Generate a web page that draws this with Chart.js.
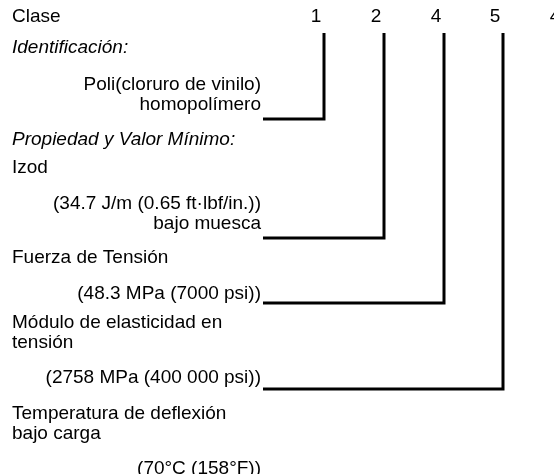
<!DOCTYPE html>
<html><head><meta charset="utf-8">
<script src="https://cdn.jsdelivr.net/npm/chart.js@4"></script>
<style>html,body{margin:0;padding:0;background:#fff;overflow:hidden}</style>
</head><body>
<canvas id="c" width="554" height="474"></canvas>
<script>
// ---- data ----
const classCodes = ['1', '2', '4', '5', '4'];
const rowText = [
  'Clase',
  'Identificación:',
  'Poli(cloruro de vinilo)',
  'homopolímero',
  'Propiedad y Valor Mínimo:',
  'Izod',
  '(34.7 J/m (0.65 ft·lbf/in.))',
  'bajo muesca',
  'Fuerza de Tensión',
  '(48.3 MPa (7000 psi))',
  'Módulo de elasticidad en',
  'tensión',
  '(2758 MPa (400 000 psi))',
  'Temperatura de deflexión',
  'bajo carga',
  '(70°C (158°F))'
];
// h = header, s = section (italic), p = property name, v = value (right aligned)
const rowKind = ['h','s','v','v','s','p','v','v','p','v','p','p','v','p','p','v'];
// row each class code's bracket points to (index into rowText)
const bracketRow = [3, 7, 9, 12];

// ---- layout ----
const rowY = [17, 48, 85, 105, 140, 168, 204, 224, 258, 294, 323, 343, 378, 414, 434, 469];
const bracketDrop = [14, 14, 9, 11];
const colX = [324, 384, 444, 503, 563];
const codeShift = -8;
const lineTop = 33;
const leftX = 12, valueRight = 261, lineStart = 263;
const FONT = '19px "Liberation Sans", Arial, sans-serif';

const datasets = bracketRow.map((r, i) => ({
  data: [
    { x: colX[i], y: lineTop },
    { x: colX[i], y: rowY[r] + bracketDrop[i] },
    { x: lineStart, y: rowY[r] + bracketDrop[i] }
  ],
  showLine: true,
  borderColor: '#000',
  borderWidth: 3,
  pointRadius: 0,
  tension: 0,
  borderJoinStyle: 'miter',
  borderCapStyle: 'butt',
  clip: false
}));

const textPlugin = {
  id: 'texts',
  afterDatasetsDraw(chart) {
    const ctx = chart.ctx;
    const xs = chart.scales.x, ys = chart.scales.y;
    ctx.save();
    ctx.fillStyle = '#000';
    ctx.textBaseline = 'middle';
    rowText.forEach((t, i) => {
      const k = rowKind[i];
      ctx.font = (k === 's' ? 'italic ' : '') + FONT;
      if (k === 'v') {
        ctx.textAlign = 'right';
        ctx.fillText(t, xs.getPixelForValue(valueRight), ys.getPixelForValue(rowY[i]));
      } else {
        ctx.textAlign = 'left';
        ctx.fillText(t, xs.getPixelForValue(leftX), ys.getPixelForValue(rowY[i]));
      }
    });
    ctx.font = FONT;
    ctx.textAlign = 'center';
    classCodes.forEach((c, i) => {
      ctx.fillText(c, xs.getPixelForValue(colX[i] + codeShift), ys.getPixelForValue(rowY[0]));
    });
    ctx.restore();
  }
};

new Chart(document.getElementById('c'), {
  type: 'scatter',
  data: { datasets },
  options: {
    responsive: false,
    animation: false,
    devicePixelRatio: 1,
    layout: { padding: 0 },
    plugins: { legend: { display: false }, tooltip: { enabled: false } },
    scales: {
      x: { type: 'linear', min: 0, max: 554, display: false },
      y: { type: 'linear', min: 0, max: 474, reverse: true, display: false }
    }
  },
  plugins: [textPlugin]
});
</script>
</body></html>
